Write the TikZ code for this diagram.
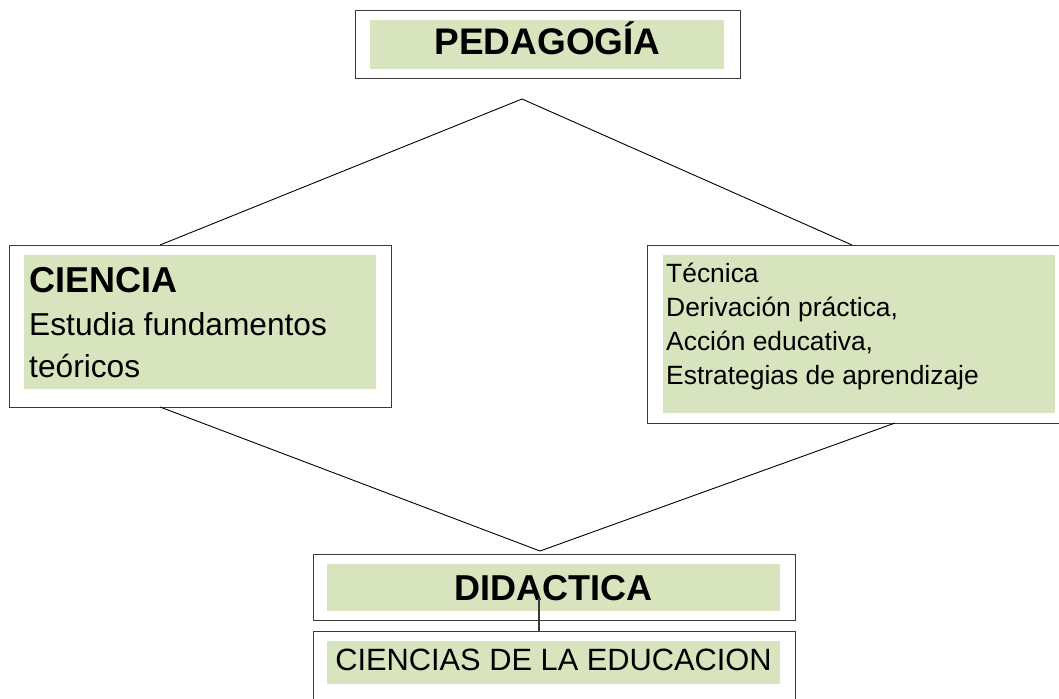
\documentclass[tikz,border=0pt]{standalone}
\usepackage{fontspec}
\setmainfont{Liberation Sans}
\definecolor{boxgreen}{HTML}{D7E4BD}
\definecolor{edgegray}{HTML}{3A3A3A}
\begin{document}
\begin{tikzpicture}[x=1pt,y=-1pt,
  outerbox/.style={draw=edgegray,line width=1.3pt,fill=white,inner sep=0pt,anchor=north west},
  greenbox/.style={fill=boxgreen,inner sep=0pt,anchor=north west},
  conn/.style={black,line width=0.9pt},
  txt/.style={inner sep=0pt,anchor=base west,text=black},
  ctxt/.style={inner sep=0pt,anchor=base,text=black}]
\useasboundingbox (0,0) rectangle (1059,698);
\clip (0,0) rectangle (1059,698);
% outer boxes
\node[outerbox,minimum width=385pt,minimum height=68pt] (ped) at (355,10) {};
\node[outerbox,minimum width=382pt,minimum height=162pt] (cie) at (9,245) {};
\node[outerbox,minimum width=430pt,minimum height=178pt] (tec) at (647,245) {};
\node[outerbox,minimum width=482pt,minimum height=66pt] (did) at (313,554) {};
\node[outerbox,minimum width=482pt,minimum height=90pt] (ced) at (313,631) {};
% green inner boxes
\node[greenbox,minimum width=354pt,minimum height=49pt] (pedg) at (370,20) {};
\node[greenbox,minimum width=352pt,minimum height=134pt] (cieg) at (24,255) {};
\node[greenbox,minimum width=392pt,minimum height=158pt] (tecg) at (663,255) {};
\node[greenbox,minimum width=453pt,minimum height=47pt] (didg) at (327,564) {};
\node[greenbox,minimum width=453pt,minimum height=43pt] (cedg) at (327,641) {};
% texts
\node[ctxt,font=\fontsize{37}{44}\bfseries\selectfont] (tped) at (547.5,55) {PEDAGOGÍA};
\node[txt,font=\fontsize{36}{42}\bfseries\selectfont] (tcie1) at (29,292) {CIENCIA};
\node[txt,font=\fontsize{31.7}{38}\selectfont] (tcie2) at (29,335) {Estudia fundamentos};
\node[txt,font=\fontsize{31.7}{38}\selectfont] (tcie3) at (29,377) {teóricos};
\node[txt,font=\fontsize{26.4}{32}\selectfont] (ttec1) at (666,282) {Técnica};
\node[txt,font=\fontsize{26.4}{32}\selectfont] (ttec2) at (666,316) {Derivación práctica,};
\node[txt,font=\fontsize{26.4}{32}\selectfont] (ttec3) at (666,350) {Acción educativa,};
\node[txt,font=\fontsize{26.4}{32}\selectfont] (ttec4) at (666,384) {Estrategias de aprendizaje};
\node[ctxt,font=\fontsize{36}{42}\bfseries\selectfont] (tdid) at (553.5,600) {DIDACTICA};
\node[ctxt,font=\fontsize{30.8}{36}\selectfont] (tced) at (553.5,670) {CIENCIAS DE LA EDUCACION};
% connector points
\coordinate (apex) at (522,99);
\coordinate (cietop) at (160,245);
\coordinate (tectop) at (852,245);
\coordinate (ciebot) at (160,407);
\coordinate (tecbot) at (895,423);
\coordinate (meet) at (540,551);
\coordinate (vtop) at (539,598);
\coordinate (vbot) at (539,631);
\draw[conn] (cietop) -- (apex) -- (tectop);
\draw[conn] (ciebot) -- (meet) -- (tecbot);
\draw[conn,edgegray,line width=1.1pt] (vtop) -- (vbot);
\end{tikzpicture}
\end{document}
